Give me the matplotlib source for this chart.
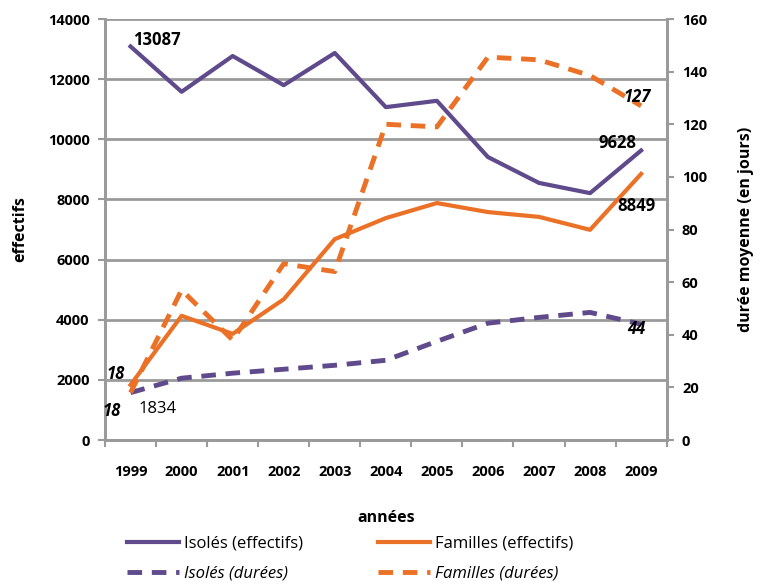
import matplotlib.pyplot as plt
import numpy as np

# données
annees = [1999, 2000, 2001, 2002, 2003, 2004, 2005, 2006, 2007, 2008, 2009]
isoles_eff = [13087, 11580, 12770, 11800, 12870, 11070, 11280, 9410, 8550, 8210, 9628]
familles_eff = [1834, 4130, 3530, 4680, 6680, 7380, 7880, 7580, 7420, 6990, 8849]
isoles_dur = [18, 23.5, 25.4, 26.9, 28.4, 30.3, 37.5, 44.4, 46.6, 48.5, 44]
familles_dur = [18, 57, 38, 67, 64, 120, 119, 145.5, 144.5, 138.5, 127]

violet = '#5F4A8B'
orange = '#EA7125'
gris = '#9A9A9A'
plt.rcParams['font.family'] = ['Open Sans', 'DejaVu Sans']

fig = plt.figure(figsize=(7.61, 5.87), dpi=100)
ax = fig.add_axes([0.138, 0.2504, 0.738, 0.7172])
ax2 = ax.twinx()

x = np.array(annees)
l1, = ax.plot(x, isoles_eff, color=violet, lw=3, label='Isolés (effectifs)')
l2, = ax.plot(x, familles_eff, color=orange, lw=3, label='Familles (effectifs)')
l3, = ax2.plot(x, isoles_dur, color=violet, lw=3.5, ls=(0, (3, 2)), label='Isolés (durées)')
l4, = ax2.plot(x, familles_dur, color=orange, lw=3.5, ls=(0, (3, 2)), label='Familles (durées)')

ax.set_xlim(1998.5, 2009.5)
ax.set_ylim(0, 14000)
ax2.set_ylim(0, 160)
ax.set_yticks(range(0, 14001, 2000))
ax2.set_yticks(range(0, 161, 20))
ax.set_xticks(annees)
ax.set_xticks(np.arange(1998.5, 2009.6, 1), minor=True)
ax.tick_params(axis='x', which='major', length=0, pad=18)
ax.tick_params(axis='x', which='minor', length=5, color=gris, width=1.5, direction='out')
ax.tick_params(axis='y', length=5, color=gris, width=1.5, pad=6)
ax2.tick_params(axis='y', length=5, color=gris, width=1.5, pad=6)
for a in (ax, ax2):
    for lab in a.get_xticklabels() + a.get_yticklabels():
        lab.set_fontweight('bold')
        lab.set_fontsize(10.5)
ax.grid(axis='y', color=gris, lw=2)
ax.set_axisbelow(True)
for a in (ax, ax2):
    a.spines['top'].set_visible(False)
    for s in ('left', 'right', 'bottom'):
        a.spines[s].set_color(gris)
        a.spines[s].set_linewidth(2)

ax.set_ylabel('effectifs', fontsize=11.5, fontweight='bold', labelpad=14)
ax2.set_ylabel('durée moyenne (en jours)', fontsize=11.5, fontweight='bold', labelpad=22)
ax.set_xlabel('années', fontsize=11.5, fontweight='bold', labelpad=22)

# étiquettes de valeurs
ax.annotate(str(isoles_eff[0]), (x[0], isoles_eff[0]), xytext=(2, 1), textcoords='offset points', fontsize=12, fontweight='bold')
ax.annotate(str(familles_eff[0]), (x[0], familles_eff[0]), xytext=(6, -20), textcoords='offset points', fontsize=12)
ax.annotate(str(isoles_eff[-1]), (x[-1], isoles_eff[-1]), xytext=(-31, 2), textcoords='offset points', fontsize=12, fontweight='bold')
ax.annotate(str(familles_eff[-1]), (x[-1], familles_eff[-1]), xytext=(-17, -27), textcoords='offset points', fontsize=12, fontweight='bold')
ax2.annotate(str(familles_dur[-1]), (x[-1], familles_dur[-1]), xytext=(-13, 3), textcoords='offset points', fontsize=12, fontweight='bold', style='italic')
ax2.annotate(str(isoles_dur[-1]), (x[-1], isoles_dur[-1]), xytext=(-10, -7), textcoords='offset points', fontsize=12, fontweight='bold', style='italic')
ax2.annotate(str(familles_dur[0]), (x[0], familles_dur[0]), xytext=(-17, 10), textcoords='offset points', fontsize=12, fontweight='bold', style='italic')
ax2.annotate(str(isoles_dur[0]), (x[0], isoles_dur[0]), xytext=(-20, -17), textcoords='offset points', fontsize=12, fontweight='bold', style='italic')

leg = fig.legend(handles=[l1, l3, l2, l4], ncol=2, loc='upper center', bbox_to_anchor=(0.46, 0.088),
                 borderaxespad=0, borderpad=0, frameon=False, fontsize=12, columnspacing=4.5,
                 handlelength=3.1, handletextpad=0.3, labelspacing=0.85)
for t in leg.get_texts():
    if 'durées' in t.get_text():
        t.set_style('italic')

plt.savefig('out.png', dpi=100)
